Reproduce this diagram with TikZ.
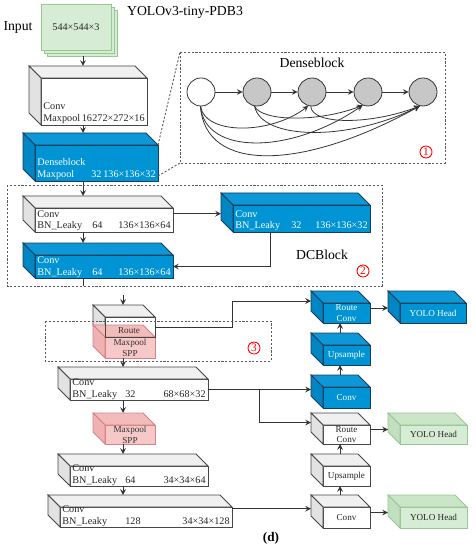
\documentclass[tikz,border=0pt]{standalone}
\usepackage{fontspec}
\setmainfont{Liberation Serif}
\usepackage{tikz}
\usetikzlibrary{calc}

\definecolor{wedge}{RGB}{70,70,70}
\definecolor{wtopc}{RGB}{240,240,240}
\definecolor{wsidec}{RGB}{226,226,226}
\definecolor{bedge}{RGB}{25,60,90}
\definecolor{bfrontc}{RGB}{0,148,212}
\definecolor{btopc}{RGB}{12,152,214}
\definecolor{bsidec}{RGB}{0,134,194}
\definecolor{pedge}{RGB}{214,130,130}
\definecolor{pfrontc}{RGB}{246,200,200}
\definecolor{ptopc}{RGB}{242,188,188}
\definecolor{psidec}{RGB}{238,178,178}
\definecolor{gedge}{RGB}{150,200,146}
\definecolor{gfrontc}{RGB}{214,236,212}
\definecolor{gtopc}{RGB}{202,229,199}
\definecolor{gsidec}{RGB}{194,223,191}

% 上面と側面 (箱の奥行き12)
\newcommand{\faces}[3]{%
  \draw[#2] (#1.north west) -- ++(-12,-12) -- ($(#1.north east)+(-12,-12)$) -- (#1.north east) -- cycle;
  \draw[#3] (#1.north west) -- ++(-12,-12) -- ($(#1.south west)+(-12,-12)$) -- (#1.south west) -- cycle;
  \coordinate (#1t) at ($(#1.north)+(-12,-12)$);
  \coordinate (#1l) at ($(#1.west)+(-12,-12)$);}
% 箱の中の文字 (色, 箱, 上段, 下段左, 数字の位置, 数字, 下段右)
\newcommand{\boxtext}[7]{%
  \node[txt, text=#1, anchor=base west] (#2-a) at ($(#2.south west)+(2,-15)$) {#3};
  \node[txt, text=#1, anchor=base west] (#2-b) at ($(#2.south west)+(2,-3)$) {#4};
  \node[txt, text=#1, anchor=base west] (#2-c) at ($(#2.south west)+(#5,-3)$) {#6};
  \node[txt, text=#1, anchor=base east] (#2-d) at ($(#2.south east)+(-2,-3)$) {#7};}

\begin{document}
\begin{tikzpicture}[x=0.02cm, y=-0.02cm, >=stealth, line width=0.45pt, % 1単位=1px, y下向き
    wh/.style 2 args={minimum width=#1*0.02cm, minimum height=#2*0.02cm},
    cube/.style={rectangle, inner sep=0pt, outer sep=0pt, align=center, font=\fontsize{5.2}{6.2}\selectfont},
    wfront/.style={cube, draw=wedge, fill=white, text=black!85},
    wtop/.style={draw=wedge, fill=wtopc}, wside/.style={draw=wedge, fill=wsidec},
    bfront/.style={cube, draw=bedge, fill=bfrontc, text=white},
    btop/.style={draw=bedge, fill=btopc}, bside/.style={draw=bedge, fill=bsidec},
    pfront/.style={cube, draw=pedge, fill=pfrontc, text=black!80},
    ptop/.style={draw=pedge, fill=ptopc}, pside/.style={draw=pedge, fill=psidec},
    gfront/.style={cube, draw=gedge, fill=gfrontc, text=black!85},
    gtop/.style={draw=gedge, fill=gtopc}, gside/.style={draw=gedge, fill=gsidec},
    txt/.style={inner sep=0pt, font=\fontsize{5.8}{6.8}\selectfont},
    bigtxt/.style={inner sep=0pt, font=\fontsize{7.8}{9}\selectfont},
    dashframe/.style={draw=black!65, dash pattern=on 1.2pt off 1pt, line width=0.5pt},
    numc/.style={circle, draw=red, text=red, inner sep=0pt, minimum size=12*0.02cm, line width=0.5pt, font=\fontsize{6.5}{6.5}\selectfont},
    cell/.style={circle, draw=black!80, minimum size=28*0.02cm, inner sep=0pt},
    link/.style={->, draw=black!80}]
  \useasboundingbox (0,0) rectangle (474,550); % 画像の大きさ

  \node[bigtxt] (title) at (185,12) {YOLOv3-tiny-PDB3}; % 題名
  \node[bigtxt] (inlbl) at (18,27) {Input};
  \node[gfront, wh={70}{46}] (in3) at (82,33) {}; % 入力 (3枚重ね)
  \node[gfront, wh={70}{46}] (in2) at (79,30) {};
  \node[gfront, wh={70}{46}, font=\fontsize{5.8}{7}\selectfont] (in) at (76,27) {544×544×3};

  % 左の列
  \node[wfront, wh={106}{47}] (c1) at (94,101.5) {};
  \faces{c1}{wtop}{wside}
  \boxtext{black!85}{c1}{Conv}{Maxpool}{40.5}{16}{272×272×16}
  \node[bfront, wh={123}{36}] (dn) at (96.5,163) {};
  \faces{dn}{btop}{bside}
  \boxtext{white}{dn}{Denseblock}{Maxpool}{56}{32}{136×136×32}

  \node[wfront, wh={138}{24}] (dc1) at (104,220) {}; % DCBlock
  \faces{dc1}{wtop}{wside}
  \boxtext{black!85}{dc1}{Conv}{BN\_Leaky}{57}{64}{136×136×64}
  \node[bfront, wh={137}{27}] (dc2) at (301.5,218.5) {};
  \faces{dc2}{btop}{bside}
  \boxtext{white}{dc2}{Conv}{BN\_Leaky}{58}{32}{136×136×32}
  \node[bfront, wh={138}{23}] (dc3) at (104,266.5) {};
  \faces{dc3}{btop}{bside}
  \boxtext{white}{dc3}{Conv}{BN\_Leaky}{57}{64}{136×136×64}

  \node[wfront, wh={50}{20}] (rt) at (130,327) {}; % Route と SPP
  \faces{rt}{wtop}{wside}
  \node[pfront, wh={50}{21}] (sp1) at (130,347.5) {Maxpool\\SPP};
  \faces{sp1}{ptop}{pside}
  \draw[wedge] (rt.north west) rectangle (rt.south east);
  \node[txt, font=\fontsize{5.2}{6.2}\selectfont, text=black!80] (rtlbl) at (129,331) {Route};

  \node[wfront, wh={138}{21}] (c68) at (139,389.5) {};
  \faces{c68}{wtop}{wside}
  \boxtext{black!85}{c68}{Conv}{BN\_Leaky}{55}{32}{68×68×32}
  \node[pfront, wh={50}{19}] (sp2) at (130,434.5) {Maxpool\\SPP};
  \faces{sp2}{ptop}{pside}
  \node[wfront, wh={138}{20}] (c34a) at (139,476) {};
  \faces{c34a}{wtop}{wside}
  \boxtext{black!85}{c34a}{Conv}{BN\_Leaky}{55}{64}{34×34×64}
  \node[wfront, wh={172}{20}] (c34b) at (146,517) {};
  \faces{c34b}{wtop}{wside}
  \boxtext{black!85}{c34b}{Conv}{BN\_Leaky}{65}{128}{34×34×128}

  % 右の列
  \node[bfront, wh={47}{20}] (rc1) at (346.5,313) {Route\\Conv};
  \faces{rc1}{btop}{bside}
  \node[bfront, wh={47}{20}] (rc2) at (346.5,355) {Upsample};
  \faces{rc2}{btop}{bside}
  \node[bfront, wh={47}{21}] (rc3) at (346.5,397.5) {Conv};
  \faces{rc3}{btop}{bside}
  \node[wfront, wh={47}{19}] (wc1) at (346.5,434.5) {Route\\Conv};
  \faces{wc1}{wtop}{wside}
  \node[wfront, wh={47}{20}] (wc2) at (346.5,476) {Upsample};
  \faces{wc2}{wtop}{wside}
  \node[wfront, wh={47}{21}] (wc3) at (346.5,517.5) {Conv};
  \faces{wc3}{wtop}{wside}
  \node[bfront, wh={66}{20}] (yh1) at (433,313) {YOLO Head};
  \faces{yh1}{btop}{bside}
  \node[gfront, wh={67}{19}] (yh2) at (433.5,434.5) {YOLO Head};
  \faces{yh2}{gtop}{gside}
  \node[gfront, wh={67}{21}] (yh3) at (433.5,517.5) {YOLO Head};
  \faces{yh3}{gtop}{gside}

  % 縦の矢印
  \coordinate (colA) at (83,0);
  \coordinate (colB) at (123,0);
  \coordinate (colC) at (340,0);
  \draw[link] (in3.south -| colA) -- (colA |- c1t);
  \draw[link] (colA |- c1.south) -- (colA |- dnt);
  \draw[link] (colA |- dn.south) -- (colA |- dc1t);
  \draw[link] (colA |- dc1.south) -- (colA |- dc3t);
  \coordinate (stub) at (83,286);
  \draw[draw=black!80] (colA |- dc3.south) -- (stub);
  \coordinate (gapB) at (123,295);
  \draw[link] (gapB) -- (colB |- rtt);
  \draw[link] (colB |- sp1.south) -- (colB |- c68t);
  \draw[link] (colB |- c68.south) -- (colB |- sp2t);
  \draw[link] (colB |- sp2.south) -- (colB |- c34at);
  \draw[link] (colB |- c34a.south) -- (colB |- c34bt);
  \draw[link] (colC |- rc3t) -- (colC |- rc2.south);
  \draw[link] (colC |- rc2t) -- (colC |- rc1.south);
  \draw[link] (colC |- wc3t) -- (colC |- wc2.south);
  \draw[link] (colC |- wc2t) -- (colC |- wc1.south);

  % 横の矢印
  \draw[link] (dc1-a.east -| dc1.east) -- (dc1-a.east -| dc2l);
  \draw[link] ($(dc2.south)+(-31,0)$) |- (dc3.east);
  \coordinate (bendA) at (232,0);
  \draw[link] (rt.east) -- (bendA |- rt.east) -- (bendA |- rc1l) -- (rc1l);
  \draw[link] (c68.east) -- (c68.east -| rc3l);
  \coordinate (bendB) at (259,0);
  \draw[link] (bendB |- c68.east) |- (wc1l);
  \draw[link] (c34b-a.east -| c34b.east) -- (c34b-a.east -| wc3l);
  \draw[link] ($(rc1.east)+(0,-5)$) -- ($(rc1.east -| yh1l)+(0,-5)$);
  \draw[link] ($(wc1.east)+(0,-5)$) -- ($(wc1.east -| yh2l)+(0,-5)$);
  \draw[link] ($(wc3.east)+(0,-5)$) -- ($(wc3.east -| yh3l)+(0,-5)$);

  % Denseblock の拡大図
  \coordinate (dbA) at (180,52);
  \coordinate (dbB) at (445,163);
  \draw[dashframe] (dbA) rectangle (dbB);
  \draw[dashframe] (dn.north east) -- (dbA);
  \draw[dashframe] ($(dn.south east)+(0,-5)$) -- (dbA |- dbB);
  \node[bigtxt] (dblbl) at (312,63) {Denseblock};
  \node[cell, fill=white] (u1) at (201,92) {};
  \node[cell, fill=black!22] (u2) at (257,92) {};
  \node[cell, fill=black!22] (u3) at (312,92) {};
  \node[cell, fill=black!22] (u4) at (368,92) {};
  \node[cell, fill=black!22] (u5) at (423,92) {};
  \foreach \a/\b in {u1/u2, u2/u3, u3/u4, u4/u5}
    \draw[link] (\a) -- (\b);
  \draw[link] (u1.-92) .. controls (205,135) and (270,135) .. (u3.-105);
  \draw[link] (u1.-92) .. controls (205,155) and (290,155) .. (u4.-112);
  \draw[link] (u1.-92) .. controls (205,172) and (300,172) .. (u5.-103);
  \draw[link] (u2.-100) .. controls (262,122) and (320,122) .. (u4.-112);
  \draw[link] (u2.-100) .. controls (262,141) and (350,141) .. (u5.-103);
  \draw[link] (u3.-95) .. controls (312,125) and (370,125) .. (u5.-103);
  \node[numc] (n1) at (426,152) {1};

  % 点線の枠
  \coordinate (dcA) at (7,185);
  \coordinate (dcB) at (382,286);
  \draw[dashframe] (dcA) rectangle (dcB);
  \node[bigtxt] (dclbl) at (322,255) {DCBlock};
  \node[numc] (n2) at (363,271) {2};
  \coordinate (spA) at (45,321);
  \coordinate (spB) at (271,361);
  \draw[dashframe] (spA) rectangle (spB);
  \node[numc] (n3) at (254,348) {3};

  \node[bigtxt, font=\bfseries\fontsize{7.5}{9}\selectfont] (sub) at (271,538) {(d)};
\end{tikzpicture}
\end{document}
